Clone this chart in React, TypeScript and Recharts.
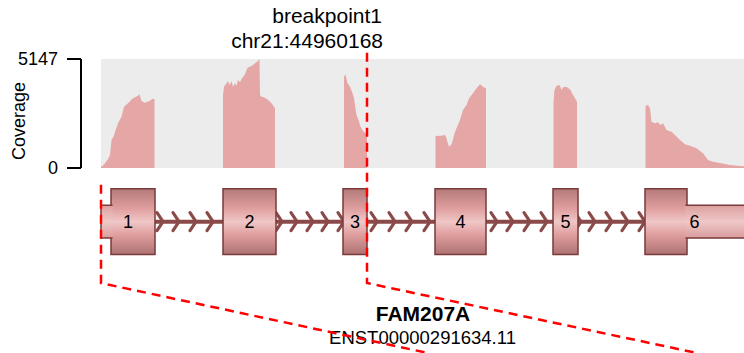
import React from 'react';
import {
  AreaChart,
  Area,
  XAxis,
  YAxis,
  ReferenceArea,
  ComposedChart,
  Line,
  Scatter,
  ReferenceLine,
} from 'recharts';

const FONT = '"Liberation Sans", Arial, Helvetica, sans-serif';

// ---- data ----
const coverageMax = 5147;
const coverageTicks = [0, 5147];
const regionStart = 0;
const regionEnd = 643;

// [position, coverage]
const exon1Coverage = [
  [0, 60], [2, 120], [4, 220], [7, 420], [9, 614], [10.5, 1320], [12.5, 1480], [14, 1714],
  [17, 2110], [20.5, 2424], [23, 2896], [27, 3054], [32, 3290], [37, 3415], [38.5, 3480],
  [40.5, 3160], [44, 3085], [49, 3180], [51.5, 3274], [53.5, 3243],
];
const exon2Coverage = [
  [122, 3450], [123, 3840], [125.5, 4000], [127, 4108], [128.5, 3920], [130.5, 4108],
  [132, 3840], [134, 4000], [135.5, 3887], [137, 4155], [139, 4045], [140.5, 4202],
  [144, 4423], [146.5, 4738], [150.5, 4817], [154, 4943], [157, 5052], [158.5, 5147],
  [159, 3450], [160.5, 3368], [164, 3321], [167, 3211], [170.5, 3054], [173, 2896], [174, 2817],
];
const exon3Coverage = [
  [243, 4313], [244.5, 4423], [245.5, 4200], [246.5, 4000], [249, 3840], [251.5, 3525],
  [253, 3290], [254.5, 2800], [255.5, 2503], [257.5, 2267], [259.5, 1951], [262, 1746],
  [264.5, 1637], [266, 1600],
];
const exon4Coverage = [
  [334.5, 1511], [340, 1520], [344, 1558], [345.5, 1400], [346.5, 1211], [348, 1007],
  [350.5, 1117], [352, 1350], [353, 1558], [355.5, 1872], [359, 2267], [362, 2739],
  [365.5, 2975], [368, 3290], [372, 3525], [375.5, 3761], [379, 3951], [382, 3840], [385, 3761],
];
const exon5Coverage = [
  [452.5, 3132], [453.5, 3683], [455, 3840], [457, 3919], [459, 3887], [460.5, 3683],
  [462, 3809], [465, 3840], [467, 3793], [469.5, 3683], [472, 3447], [475, 3211], [476, 3132],
];
const exon6Coverage = [
  [544.5, 2943], [547, 2975], [549, 2817], [550.5, 2188], [554, 2110], [557, 2158],
  [559.5, 2031], [562, 2110], [565.5, 1794], [570.5, 1714], [574, 1558], [579, 1322],
  [584, 1117], [589, 1054], [595.5, 930], [602, 694], [607, 378], [612, 298], [620.5, 220],
  [629, 142], [639, 94], [643, 80],
];
const coverageProfiles = [
  exon1Coverage, exon2Coverage, exon3Coverage, exon4Coverage, exon5Coverage, exon6Coverage,
];

// transcript structure
const exonLabels = ['1', '2', '3', '4', '5', '6'];
const exonStarts = [0, 122, 242, 334, 452, 544];
const exonEnds = [54, 175, 266, 385, 477, 643];
const cdsStarts = [10, 122, 242, 334, 452, 544];
const cdsEnds = [54, 175, 266, 385, 477, 586];
const utr5 = [0, 10];
const utr3 = [586, 643];
const intronSpan = [54, 544];
const chevronPositions = [
  62, 78, 95, 112,
  181, 196, 212, 227, 243,
  276, 294, 311, 329,
  396, 412, 429, 446,
  480, 494, 511, 527, 544,
];

// breakpoint
const breakpointPos = 266;
const breakpointLabel = 'breakpoint1';
const breakpointCoord = 'chr21:44960168';
const geneName = 'FAM207A';
const transcriptId = 'ENST00000291634.11';

// track units (exon half-height = 1)
const trackDomain = [-4, 6.75];
const breakpointLine = [
  { pos: breakpointPos, u: 5.14 },
  { pos: breakpointPos, u: -1.87 },
  { pos: 596, u: -4 },
];
const regionStartLine = [
  { pos: regionStart, u: 1.12 },
  { pos: regionStart, u: -1.87 },
  { pos: 327, u: -4 },
];

// ---- derived tables ----
const coverageData: any[] = [];
coverageProfiles.forEach((prof, i) => {
  prof.forEach(([pos, cov]) => coverageData.push({ pos, cov }));
  if (i < coverageProfiles.length - 1) {
    coverageData.push({ pos: prof[prof.length - 1][0] + 0.4, cov: null });
  }
});
const chevronData = chevronPositions.map((pos) => ({ pos, u: 0 }));
const exonLabelData = exonLabels.map((label, i) => ({
  pos: (exonStarts[i] + exonEnds[i]) / 2,
  u: 0,
  label,
}));

const X_DOMAIN = [-20, regionEnd];
const EXON_STROKE = '#7a3a3a';
const INTRON = '#8a4a4a';

const ChevronShape = (p: any) => {
  const { cx, cy } = p;
  return (
    <path
      d={`M${cx - 6},${cy - 9} L${cx},${cy} L${cx - 6},${cy + 9}`}
      fill="none"
      stroke={INTRON}
      strokeWidth={3.2}
      strokeLinejoin="round"
      strokeLinecap="round"
    />
  );
};

const ExonLabelShape = (p: any) => {
  const { cx, cy, payload } = p;
  return (
    <text x={cx} y={cy} dy="0.36em" textAnchor="middle" fontSize={18} fontFamily={FONT} fill="#000">
      {payload.label}
    </text>
  );
};

const makeUtrShape = (joinSide: 'left' | 'right') => (p: any) => {
  const { x, y, width, height } = p;
  if (joinSide === 'right') {
    return (
      <g>
        <rect x={x} y={y} width={width + 1.6} height={height} fill="url(#utrGrad)" />
        <path
          d={`M${x + width + 1.6},${y} H${x} V${y + height} H${x + width + 1.6}`}
          fill="none"
          stroke={EXON_STROKE}
          strokeWidth={1.5}
        />
      </g>
    );
  }
  return (
    <g>
      <rect x={x - 1.6} y={y} width={width + 1.6} height={height} fill="url(#utrGrad)" />
      <path
        d={`M${x - 1.6},${y} H${x + width + 4} M${x - 1.6},${y + height} H${x + width + 4}`}
        fill="none"
        stroke={EXON_STROKE}
        strokeWidth={1.5}
      />
    </g>
  );
};

export default function App() {
  return (
    <div
      style={{
        position: 'absolute',
        left: 0,
        top: 0,
        width: 744,
        height: 353,
        background: '#fff',
        overflow: 'hidden',
        fontFamily: FONT,
      }}
    >
      {/* coverage panel */}
      <div style={{ position: 'absolute', left: 0, top: 0 }}>
        <AreaChart
          width={744}
          height={190}
          data={coverageData}
          margin={{ top: 59, right: 0, bottom: 22, left: 0 }}
        >
          <XAxis type="number" dataKey="pos" domain={X_DOMAIN} hide />
          <YAxis
            type="number"
            domain={[0, coverageMax]}
            ticks={coverageTicks}
            interval={0}
            width={81}
            tickSize={14}
            tickMargin={9}
            axisLine={{ stroke: '#000', strokeWidth: 2 }}
            tickLine={{ stroke: '#000', strokeWidth: 2 }}
            tick={{ fill: '#000', fontSize: 18, fontFamily: FONT }}
          />
          <ReferenceArea
            x1={regionStart}
            x2={regionEnd}
            y1={0}
            y2={coverageMax}
            fill="#ececec"
            fillOpacity={1}
            stroke="none"
            zIndex={-1}
          />
          <Area
            dataKey="cov"
            type="linear"
            stroke="none"
            fill="#e5a6a6"
            fillOpacity={1}
            connectNulls={false}
            dot={false}
            activeDot={false}
            baseValue={0}
            isAnimationActive={false}
          />
        </AreaChart>
      </div>

      {/* texts */}
      <svg
        width={744}
        height={353}
        style={{ position: 'absolute', left: 0, top: 0 }}
        fontFamily={FONT}
      >
        <text x={382} y={23} textAnchor="end" fontSize={21} fill="#000">
          {breakpointLabel}
        </text>
        <text x={383} y={48} textAnchor="end" fontSize={21} fill="#000">
          {breakpointCoord}
        </text>
        <text
          x={25}
          y={121}
          transform="rotate(-90 25 121)"
          textAnchor="middle"
          fontSize={18}
          fill="#000"
        >
          Coverage
        </text>
        <text x={423} y={321} textAnchor="middle" fontSize={21} fontWeight="bold" fill="#000">
          {geneName}
        </text>
        <text x={422.5} y={344} textAnchor="middle" fontSize={18.5} fill="#000">
          {transcriptId}
        </text>
      </svg>

      {/* transcript track + breakpoint */}
      <div style={{ position: 'absolute', left: 0, top: 0 }}>
        <ComposedChart width={744} height={353} margin={{ top: 0, right: 0, bottom: 0, left: 81 }}>
          <defs>
            <linearGradient id="exonGrad" x1="0" y1="0" x2="0" y2="1">
              <stop offset="0" stopColor="#b47a7a" />
              <stop offset="0.3" stopColor="#e09e9e" />
              <stop offset="0.5" stopColor="#efc7c7" />
              <stop offset="0.7" stopColor="#e09e9e" />
              <stop offset="1" stopColor="#ad7272" />
            </linearGradient>
            <linearGradient id="utrGrad" x1="0" y1="0" x2="0" y2="1">
              <stop offset="0" stopColor="#dca0a0" />
              <stop offset="0.5" stopColor="#efc7c7" />
              <stop offset="1" stopColor="#d99c9c" />
            </linearGradient>
          </defs>
          <XAxis type="number" dataKey="pos" domain={X_DOMAIN} hide />
          <YAxis type="number" dataKey="u" domain={trackDomain} hide />
          <ReferenceLine
            segment={[
              { x: intronSpan[0], y: 0 },
              { x: intronSpan[1], y: 0 },
            ]}
            stroke={INTRON}
            strokeWidth={4}
            zIndex={10}
          />
          <Scatter
            data={chevronData}
            shape={ChevronShape}
            isAnimationActive={false}
            zIndex={20}
          />
          {cdsStarts.map((s, i) => (
            <ReferenceArea
              key={`cds${i}`}
              x1={s}
              x2={cdsEnds[i]}
              y1={-1}
              y2={1}
              fill="url(#exonGrad)"
              fillOpacity={1}
              stroke={EXON_STROKE}
              strokeWidth={1.5}
              zIndex={30}
            />
          ))}
          <ReferenceArea
            x1={utr5[0]}
            x2={utr5[1]}
            y1={-0.5}
            y2={0.5}
            shape={makeUtrShape('right')}
            zIndex={35}
          />
          <ReferenceArea
            x1={utr3[0]}
            x2={utr3[1]}
            y1={-0.5}
            y2={0.5}
            shape={makeUtrShape('left')}
            zIndex={35}
          />
          <Scatter
            data={exonLabelData}
            shape={ExonLabelShape}
            isAnimationActive={false}
            zIndex={40}
          />
          <Line
            data={regionStartLine}
            dataKey="u"
            type="linear"
            stroke="#ff0000"
            strokeWidth={2.5}
            strokeDasharray="9 6"
            dot={false}
            activeDot={false}
            isAnimationActive={false}
            zIndex={50}
          />
          <Line
            data={breakpointLine}
            dataKey="u"
            type="linear"
            stroke="#ff0000"
            strokeWidth={2.5}
            strokeDasharray="9 6"
            dot={false}
            activeDot={false}
            isAnimationActive={false}
            zIndex={50}
          />
        </ComposedChart>
      </div>
    </div>
  );
}
